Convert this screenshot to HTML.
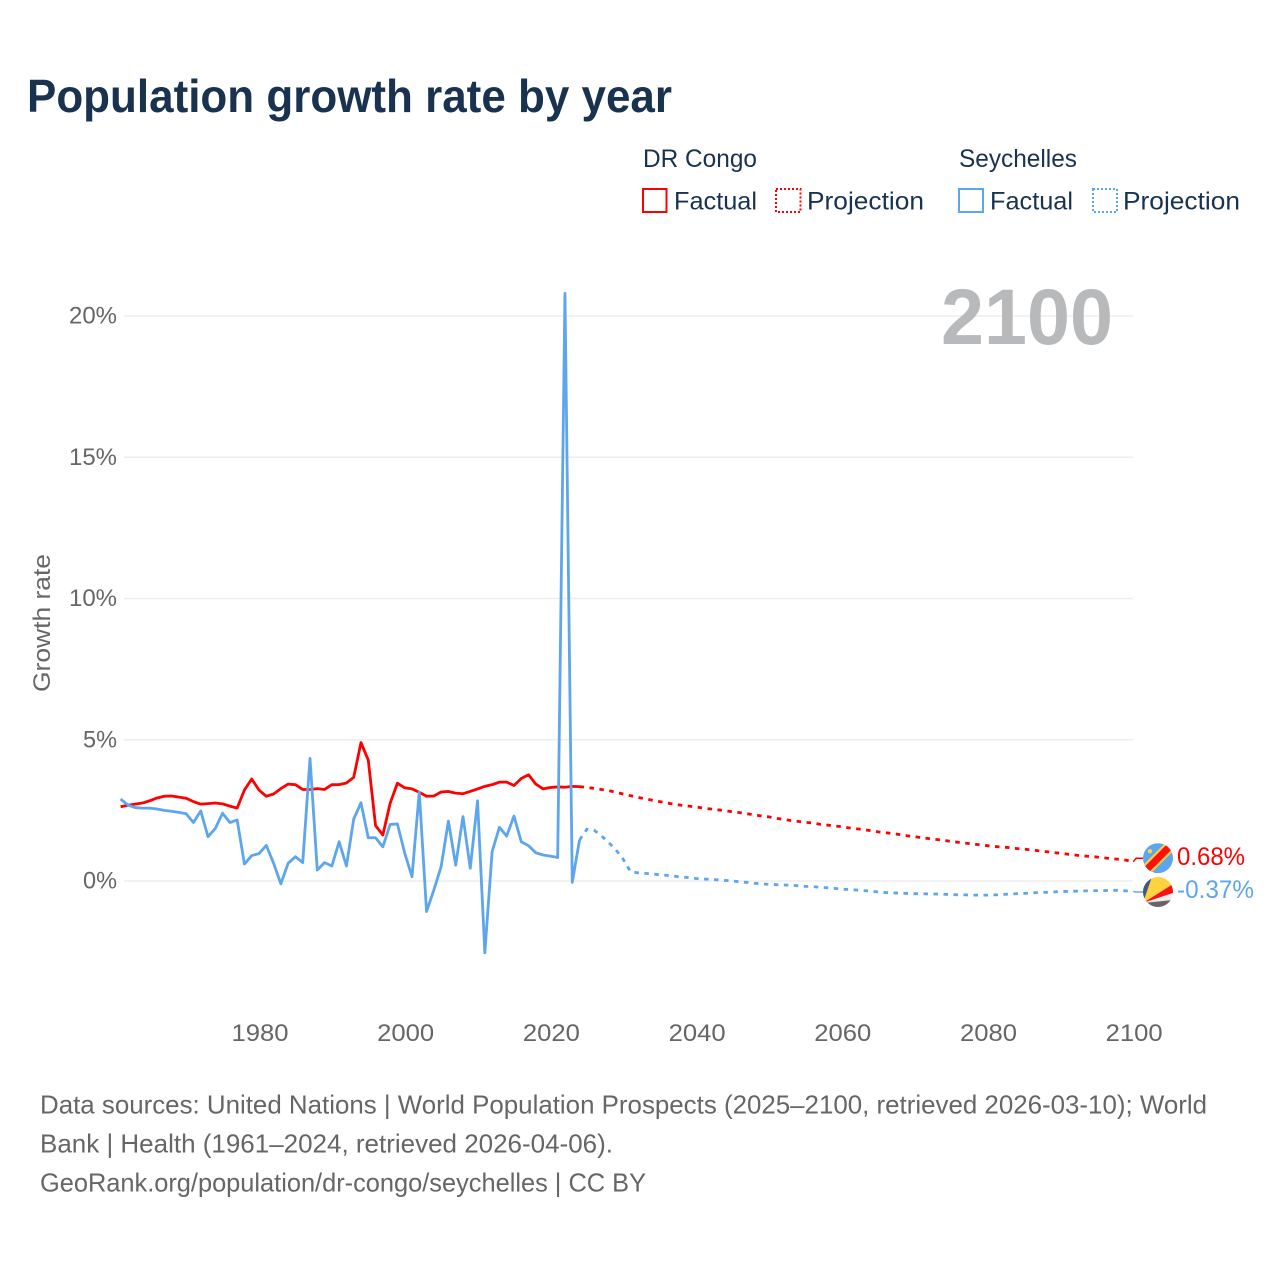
<!DOCTYPE html>
<html lang="en">
<head>
<meta charset="utf-8">
<title>Population growth rate by year</title>
<style>
html,body{margin:0;padding:0;background:#fff;}
svg{display:block;font-family:"Liberation Sans",sans-serif;}
</style>
</head>
<body>
<svg id="chart" xmlns="http://www.w3.org/2000/svg" width="1280" height="1280" viewBox="0 0 1280 1280">
  <rect x="0" y="0" width="1280" height="1280" fill="#ffffff"/>
  <text x="27" y="112" font-size="46" font-weight="700" fill="#18324f" textLength="645" lengthAdjust="spacingAndGlyphs">Population growth rate by year</text>

  <g font-size="25" fill="#18324f">
    <text x="643" y="167" textLength="114" lengthAdjust="spacingAndGlyphs">DR Congo</text>
    <text x="959" y="167" textLength="118" lengthAdjust="spacingAndGlyphs">Seychelles</text>
    <rect x="643" y="189" width="23.5" height="23" fill="none" stroke="#ff0000" stroke-width="2"/>
    <text x="674" y="209.5" textLength="83" lengthAdjust="spacingAndGlyphs">Factual</text>
    <rect x="776" y="189" width="24.5" height="23" fill="none" stroke="#ff0000" stroke-width="2" stroke-dasharray="2 2"/>
    <text x="807" y="209.5" textLength="117" lengthAdjust="spacingAndGlyphs">Projection</text>
    <rect x="959" y="189" width="24" height="23" fill="none" stroke="#5da5ed" stroke-width="2"/>
    <text x="990" y="209.5" textLength="83" lengthAdjust="spacingAndGlyphs">Factual</text>
    <rect x="1093" y="189" width="24" height="23" fill="none" stroke="#5da5ed" stroke-width="2" stroke-dasharray="2 2"/>
    <text x="1123" y="209.5" textLength="117" lengthAdjust="spacingAndGlyphs">Projection</text>
  </g>

  <g id="grid"></g>
  <g id="yticks" font-size="24" fill="#666666"></g>
  <g id="xticks" font-size="24" fill="#666666"></g>
  <text transform="translate(50,692) rotate(-90)" font-size="24" fill="#666666" textLength="138" lengthAdjust="spacingAndGlyphs">Growth rate</text>
  <text x="941" y="344" font-size="79" font-weight="700" fill="#b8b9bb" textLength="172" lengthAdjust="spacingAndGlyphs">2100</text>
  <g id="series"></g>

  <defs>
    <clipPath id="flag-clip-drc"><circle cx="0" cy="0" r="15"/></clipPath>
    <clipPath id="flag-clip-sc"><circle cx="0" cy="0" r="15"/></clipPath>
  </defs>
  <g id="flag-drc" clip-path="url(#flag-clip-drc)">
    <rect x="-15" y="-15" width="30" height="30" fill="#5da5ed"/>
    <polygon points="-20,12 12,-20 20,-20 20,-12 -12,20 -20,20" fill="#ffd23f"/>
    <polygon points="-20,15 15,-20 20,-15 -15,20" fill="#ff1010"/>
    <circle cx="-8" cy="-7" r="2.2" fill="#ffd23f"/>
  </g>
  <g id="flag-sc" clip-path="url(#flag-clip-sc)">
    <rect x="-15" y="-15" width="30" height="30" fill="#eeeeee"/>
    <polygon points="-15,11 -15,-15 -6,-15" fill="#44597c"/>
    <polygon points="-15,11 -6,-15 15,-15 15,-8" fill="#ffd23f"/>
    <polygon points="-15,11 15,-8 15,1" fill="#ff1010"/>
    <polygon points="-15,11 15,1 15,8" fill="#eeeeee"/>
    <polygon points="-15,11 15,8 15,15 -15,15" fill="#666666"/>
  </g>
  <text id="label-drc" x="1177" font-size="25" fill="#ff0000" textLength="68" lengthAdjust="spacingAndGlyphs"></text>
  <text id="label-sc" x="1177" font-size="25" fill="#5da5ed" textLength="77" lengthAdjust="spacingAndGlyphs"></text>

  <g font-size="26" fill="#666666">
    <text x="40" y="1113.5" textLength="1167" lengthAdjust="spacingAndGlyphs">Data sources: United Nations | World Population Prospects (2025–2100, retrieved 2026-03-10); World</text>
    <text x="40" y="1152.5" textLength="573" lengthAdjust="spacingAndGlyphs">Bank | Health (1961–2024, retrieved 2026-04-06).</text>
    <text x="40" y="1191.5" textLength="606" lengthAdjust="spacingAndGlyphs">GeoRank.org/population/dr-congo/seychelles | CC BY</text>
  </g>
</svg>
<script>
const firstYear = 1961;
const firstProjectionYear = 2025;
const xTickValues = [1980, 2000, 2020, 2040, 2060, 2080, 2100];
const yTickValues = [0, 5, 10, 15, 20];

const drCongoFactual = [
  2.63, 2.68, 2.72, 2.76, 2.84, 2.94, 3.00, 3.01, 2.97, 2.93,
  2.81, 2.72, 2.74, 2.76, 2.73, 2.65, 2.58, 3.22, 3.61, 3.22,
  3.00, 3.08, 3.27, 3.43, 3.41, 3.24, 3.24, 3.27, 3.24, 3.41,
  3.41, 3.47, 3.67, 4.90, 4.28, 1.96, 1.63, 2.75, 3.46, 3.30,
  3.26, 3.14, 3.00, 3.01, 3.15, 3.17, 3.11, 3.09, 3.17, 3.26,
  3.35, 3.41, 3.50, 3.50, 3.38, 3.63, 3.76, 3.43, 3.26, 3.31,
  3.33, 3.32, 3.35, 3.34
];
const drCongoProjection = [
  3.31, 3.28, 3.24, 3.20, 3.14, 3.08, 3.02, 2.96, 2.91, 2.86,
  2.81, 2.76, 2.72, 2.68, 2.65, 2.62, 2.58, 2.55, 2.52, 2.49,
  2.45, 2.42, 2.38, 2.34, 2.30, 2.27, 2.22, 2.18, 2.14, 2.11,
  2.08, 2.05, 2.01, 1.98, 1.95, 1.92, 1.88, 1.85, 1.82, 1.78,
  1.74, 1.71, 1.68, 1.64, 1.60, 1.57, 1.53, 1.50, 1.47, 1.44,
  1.40, 1.37, 1.34, 1.31, 1.28, 1.25, 1.22, 1.20, 1.18, 1.15,
  1.13, 1.10, 1.07, 1.04, 1.01, 0.98, 0.95, 0.92, 0.89, 0.87,
  0.85, 0.82, 0.79, 0.77, 0.74, 0.68
];
const seychellesFactual = [
  2.90, 2.69, 2.60, 2.58, 2.58, 2.55, 2.50, 2.47, 2.43, 2.38,
  2.07, 2.48, 1.57, 1.86, 2.40, 2.07, 2.16, 0.60, 0.90, 0.97,
  1.26, 0.63, -0.10, 0.63, 0.86, 0.65, 4.34, 0.39, 0.65, 0.53,
  1.39, 0.53, 2.19, 2.77, 1.53, 1.53, 1.21, 2.00, 2.02, 0.99,
  0.15, 3.15, -1.08, -0.32, 0.51, 2.12, 0.56, 2.28, 0.45, 2.84,
  -2.54, 1.04, 1.90, 1.59, 2.30, 1.39, 1.25, 1.00, 0.92, 0.88,
  0.83, 20.80, -0.05, 1.45
];
const seychellesProjection = [
  1.83, 1.80, 1.60, 1.36, 1.10, 0.77, 0.33, 0.29, 0.27, 0.25,
  0.22, 0.20, 0.17, 0.14, 0.12, 0.09, 0.07, 0.06, 0.04, 0.02,
  0.00, -0.03, -0.05, -0.08, -0.10, -0.12, -0.13, -0.14, -0.15, -0.17,
  -0.19, -0.20, -0.22, -0.24, -0.26, -0.29, -0.30, -0.32, -0.34, -0.36,
  -0.39, -0.41, -0.42, -0.43, -0.44, -0.45, -0.45, -0.46, -0.46, -0.47,
  -0.48, -0.49, -0.49, -0.50, -0.50, -0.50, -0.49, -0.48, -0.46, -0.45,
  -0.44, -0.42, -0.41, -0.40, -0.39, -0.37, -0.37, -0.36, -0.35, -0.35,
  -0.34, -0.34, -0.33, -0.33, -0.35, -0.37
];

const SVG_NS = 'http://www.w3.org/2000/svg';
const xScale = function (year) { return 259 + (year - 1980) * 7.285; };
const yScale = function (value) { return 881 - value * 28.25; };
const RED = '#ff0000';
const BLUE = '#5da5ed';
const LINE_WIDTH = 2.8;

function make(tag, parentId) {
  const el = document.createElementNS(SVG_NS, tag);
  document.getElementById(parentId).appendChild(el);
  return el;
}

yTickValues.forEach(function (v) {
  const line = make('line', 'grid');
  
  
  line.setAttribute('x1', 124);
  line.setAttribute('x2', 1133);
  line.setAttribute('y1', yScale(v));
  line.setAttribute('y2', yScale(v));
  line.setAttribute('stroke', '#eeeeee');
  line.setAttribute('stroke-width', 1.5);

  const label = make('text', 'yticks');
  
  
  const str = v + '%';
  const w = str.length === 3 ? 48 : 34;
  label.setAttribute('x', 117 - w);
  label.setAttribute('y', yScale(v) + 7.5);
  label.setAttribute('textLength', w);
  label.setAttribute('lengthAdjust', 'spacingAndGlyphs');
  label.textContent = str;
});

xTickValues.forEach(function (year) {
  const label = make('text', 'xticks');
  
  
  label.setAttribute('x', xScale(year) + 1 - 28.5);
  label.setAttribute('y', 1041);
  label.setAttribute('textLength', 57);
  label.setAttribute('lengthAdjust', 'spacingAndGlyphs');
  label.textContent = String(year);
});

function pathFrom(values, startYear, prefix) {
  let d = prefix || '';
  values.forEach(function (v, i) {
    const cmd = (d === '') ? 'M' : 'L';
    d += cmd + xScale(startYear + i).toFixed(2) + ',' + yScale(v).toFixed(2);
  });
  return d;
}

function drawSeries(key, color, factual, projection) {
  const last = factual[factual.length - 1];
  const lastYear = firstYear + factual.length - 1;

  const solid = make('path', 'series');
  
  
  solid.setAttribute('d', pathFrom(factual, firstYear));
  solid.setAttribute('fill', 'none');
  solid.setAttribute('stroke', color);
  solid.setAttribute('stroke-width', LINE_WIDTH);
  solid.setAttribute('stroke-linejoin', 'round');

  const dotted = make('path', 'series');
  
  
  const start = 'M' + xScale(lastYear).toFixed(2) + ',' + yScale(last).toFixed(2);
  dotted.setAttribute('d', pathFrom(projection, firstProjectionYear, start));
  dotted.setAttribute('fill', 'none');
  dotted.setAttribute('stroke', color);
  dotted.setAttribute('stroke-width', LINE_WIDTH);
  dotted.setAttribute('stroke-dasharray', '4.5 5.5');
}

drawSeries('dr-congo', RED, drCongoFactual, drCongoProjection);
drawSeries('seychelles', BLUE, seychellesFactual, seychellesProjection);

function drawEnd(key, color, projection, flagOffset, labelOffset, flagId, labelId) {
  const v = projection[projection.length - 1];
  const yEnd = yScale(v);
  const flagY = yEnd + flagOffset;
  const conn = make('path', 'series');
  
  
  conn.setAttribute('d', 'M' + xScale(2100) + ',' + yEnd + 'L' + (xScale(2100) + 3) + ',' + flagY + 'L1143,' + flagY);
  conn.setAttribute('fill', 'none');
  conn.setAttribute('stroke', color);
  conn.setAttribute('stroke-width', 1.5);
  document.getElementById(flagId).setAttribute('transform', 'translate(1158,' + flagY + ')');
  const label = document.getElementById(labelId);
  label.setAttribute('y', flagY + labelOffset);
  label.textContent = v.toFixed(2) + '%';
}

drawEnd('dr-congo', RED, drCongoProjection, -3.6, 7, 'flag-drc', 'label-drc');
drawEnd('seychelles', BLUE, seychellesProjection, 0.6, 6, 'flag-sc', 'label-sc');
</script>
</body>
</html>
